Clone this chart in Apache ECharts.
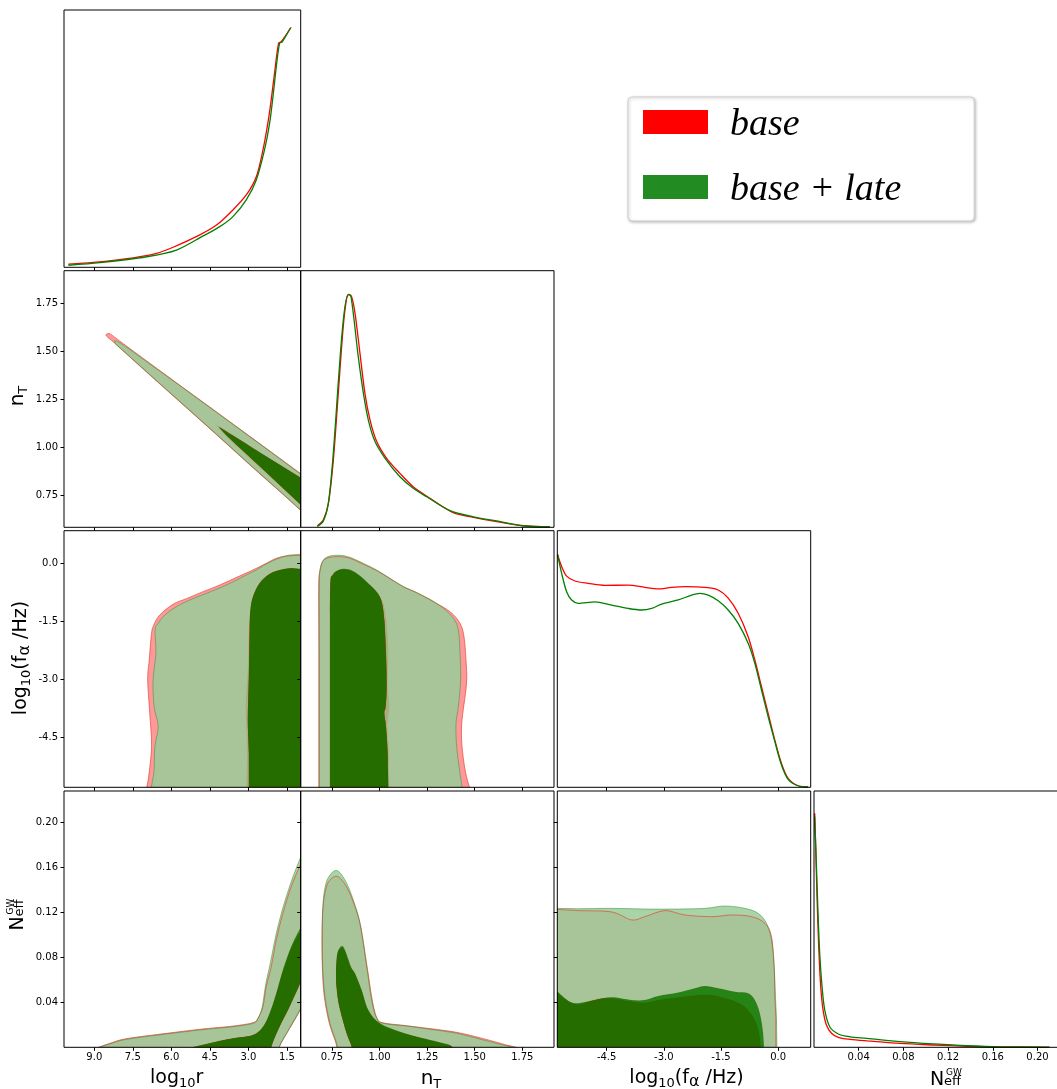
<!DOCTYPE html>
<html><head><meta charset="utf-8">
<script src="https://cdn.jsdelivr.net/npm/echarts@6/dist/echarts.min.js"></script>
<style>html,body{margin:0;padding:0;background:#fff;}#c{width:1057px;height:1089px;}</style>
</head><body><div id="c"></div>
<script>
// ---------- tick labels ----------
const ticksLogR = [9.0, 7.5, 6.0, 4.5, 3.0, 1.5];
const ticksNT = [0.75, 1.00, 1.25, 1.50, 1.75];
const ticksFa = [-4.5, -3.0, -1.5, 0.0];
const ticksNeff = [0.04, 0.08, 0.12, 0.16, 0.20];

// ---------- 1D marginals [value, normalised density] ----------
const logRBase = [[10.01,0.012],[9.04,0.019],[7.48,0.037],[6.58,0.054],[5.93,0.078],[4.89,0.126],[4.24,0.164],[3.60,0.223],[3.08,0.281],[2.69,0.352],[2.43,0.456],[2.24,0.560],[2.11,0.650],[1.98,0.754],[1.82,0.871],[1.72,0.877],[1.33,0.933]];
const logRLate = [[10.01,0.008],[8.78,0.018],[6.96,0.041],[5.80,0.067],[4.76,0.122],[4.11,0.158],[3.60,0.197],[3.08,0.262],[2.69,0.339],[2.37,0.456],[2.17,0.560],[2.04,0.663],[1.91,0.780],[1.78,0.871],[1.68,0.876],[1.37,0.929]];
const nTBase = [[0.673,0.006],[0.704,0.028],[0.731,0.093],[0.757,0.262],[0.783,0.522],[0.809,0.782],[0.827,0.892],[0.839,0.908],[0.853,0.899],[0.871,0.834],[0.897,0.678],[0.923,0.522],[0.950,0.418],[0.985,0.334],[1.037,0.269],[1.107,0.210],[1.177,0.158],[1.265,0.113],[1.387,0.057],[1.493,0.039],[1.615,0.022],[1.755,0.006],[1.895,0.002]];
const nTLate = [[0.673,0.003],[0.704,0.024],[0.730,0.090],[0.754,0.262],[0.806,0.782],[0.836,0.908],[0.850,0.899],[0.888,0.665],[0.915,0.522],[0.941,0.418],[0.976,0.334],[1.029,0.269],[1.107,0.197],[1.177,0.152],[1.248,0.119],[1.370,0.065],[1.493,0.041],[1.615,0.025],[1.755,0.006],[1.895,0.002]];
const faBase = [[-5.79,0.908],[-5.681,0.860],[-5.550,0.823],[-5.331,0.804],[-4.982,0.795],[-4.545,0.787],[-3.933,0.788],[-3.496,0.779],[-3.146,0.773],[-2.796,0.779],[-2.447,0.782],[-1.922,0.779],[-1.573,0.769],[-1.310,0.737],[-1.048,0.678],[-0.786,0.587],[-0.611,0.496],[-0.436,0.392],[-0.261,0.288],[-0.086,0.184],[0.088,0.093],[0.263,0.035],[0.525,0.006],[0.788,0.002]];
const faLate = [[-5.79,0.908],[-5.681,0.834],[-5.550,0.762],[-5.419,0.730],[-5.244,0.717],[-4.807,0.723],[-4.370,0.710],[-3.933,0.697],[-3.583,0.691],[-3.321,0.697],[-3.058,0.714],[-2.622,0.730],[-2.272,0.749],[-2.053,0.756],[-1.835,0.749],[-1.573,0.727],[-1.310,0.691],[-1.048,0.639],[-0.786,0.561],[-0.611,0.483],[-0.436,0.379],[-0.261,0.275],[-0.086,0.178],[0.088,0.087],[0.263,0.031],[0.525,0.006],[0.788,0.002]];
const neffBase = [[0.0006,0.913],[0.0015,0.783],[0.0027,0.588],[0.0042,0.393],[0.0060,0.237],[0.0081,0.146],[0.0111,0.087],[0.0157,0.055],[0.0217,0.039],[0.0322,0.031],[0.0472,0.025],[0.0772,0.015],[0.1072,0.009],[0.1373,0.004],[0.1673,0.001],[0.2108,0.000]];
const neffLate = [[0.0006,0.900],[0.0021,0.718],[0.0036,0.523],[0.0051,0.367],[0.0072,0.237],[0.0096,0.146],[0.0141,0.080],[0.0217,0.052],[0.0322,0.041],[0.0472,0.035],[0.0772,0.022],[0.1072,0.013],[0.1373,0.006],[0.1673,0.002],[0.2108,0.001]];

// ---------- 2D contours (outer = 95%, inner = 68%) ----------
// log10r vs nT
const rnBaseOut = [[8.545,1.584],[8.39,1.590],[8.00,1.552],[6.84,1.438],[5.54,1.311],[4.24,1.185],[2.95,1.059],[1.65,0.932],[0.88,0.856],[0.88,0.664],[1.65,0.757],[2.95,0.911],[4.24,1.067],[5.54,1.222],[6.84,1.377],[7.74,1.485],[8.20,1.542],[8.42,1.566]];
const rnLateOut = [[8.20,1.554],[7.87,1.532],[6.84,1.434],[5.54,1.309],[4.24,1.183],[2.95,1.057],[1.65,0.930],[0.88,0.854],[0.88,0.666],[1.65,0.759],[2.95,0.913],[4.24,1.069],[5.54,1.224],[6.84,1.379],[7.74,1.487],[8.13,1.532]];
const rnBaseIn = [[4.24,1.117],[3.60,1.067],[2.30,0.956],[0.88,0.840],[0.88,0.690],[2.30,0.866],[3.60,1.025],[4.11,1.095]];
const rnLateIn = [[4.09,1.103],[3.60,1.062],[2.30,0.953],[0.88,0.837],[0.88,0.693],[2.30,0.870],[3.60,1.031],[4.05,1.091]];
// log10r vs log10 f
const rfBaseOut = [[6.99,-5.906],[6.90,-5.604],[6.77,-4.740],[6.84,-3.876],[6.92,-3.013],[6.86,-2.495],[6.77,-1.804],[6.68,-1.588],[6.45,-1.329],[5.93,-1.05],[5.41,-0.906],[4.76,-0.725],[4.11,-0.552],[3.34,-0.319],[2.82,-0.163],[2.30,0.010],[1.91,0.139],[1.52,0.199],[0.81,0.225],[0.81,-5.906]];
const rfLateOut = [[6.81,-5.906],[6.68,-5.431],[6.64,-4.740],[6.51,-4.222],[6.67,-3.704],[6.71,-3.013],[6.60,-2.322],[6.63,-1.718],[6.51,-1.545],[6.25,-1.329],[5.80,-1.113],[5.28,-0.940],[4.63,-0.768],[3.85,-0.552],[3.21,-0.336],[2.69,-0.163],[2.30,-0.008],[1.91,0.113],[1.39,0.225],[0.81,0.251],[0.81,-5.906]];
const rfBaseIn = [[3.08,-5.906],[3.05,-4.913],[3.10,-3.704],[3.02,-2.75],[2.98,-1.718],[2.92,-1.190],[2.82,-0.836],[2.56,-0.49],[2.17,-0.25],[1.65,-0.137],[1.27,-0.112],[0.81,-0.137],[0.81,-5.906]];
const rfLateIn = [[2.98,-5.906],[2.98,-4.913],[3.02,-4.049],[2.98,-2.927],[2.95,-1.718],[2.92,-1.200],[2.82,-0.854],[2.56,-0.509],[2.17,-0.267],[1.65,-0.146],[1.27,-0.120],[0.81,-0.146],[0.81,-5.906]];
// nT vs log10 f
const nfBaseOut = [[0.6807,-5.906],[0.6807,-2.322],[0.680,-0.595],[0.687,-0.18],[0.7044,0.079],[0.7395,0.165],[0.792,0.182],[0.8446,0.139],[0.9147,-0.016],[0.9847,-0.18],[1.0548,-0.388],[1.1248,-0.595],[1.195,-0.750],[1.2825,-0.984],[1.37,-1.243],[1.4225,-1.545],[1.4437,-1.890],[1.454,-2.495],[1.458,-3.013],[1.447,-3.531],[1.433,-4.049],[1.431,-4.567],[1.4437,-5.172],[1.461,-5.604],[1.479,-5.906]];
const nfLateOut = [[0.6834,-5.906],[0.6834,-2.322],[0.6834,-0.595],[0.687,-0.163],[0.7044,0.096],[0.7395,0.199],[0.792,0.217],[0.8446,0.165],[0.9147,0.010],[0.9847,-0.163],[1.0548,-0.379],[1.1248,-0.595],[1.195,-0.750],[1.265,-0.923],[1.335,-1.156],[1.3876,-1.415],[1.4139,-1.718],[1.4225,-2.322],[1.426,-3.013],[1.4139,-3.704],[1.4016,-4.136],[1.405,-4.740],[1.4225,-5.431],[1.4367,-5.906]];
const nfBaseIn = [[0.736,-5.906],[0.736,-2.322],[0.7395,-0.595],[0.7535,-0.267],[0.792,-0.163],[0.8358,-0.163],[0.8796,-0.267],[0.9357,-0.492],[0.988,-0.750],[1.0198,-1.027],[1.0373,-1.545],[1.046,-2.322],[1.0425,-3.186],[1.051,-3.704],[1.0408,-4.222],[1.0483,-4.913],[1.051,-5.906]];
const nfLateIn = [[0.7395,-5.906],[0.7395,-2.322],[0.741,-0.595],[0.7535,-0.293],[0.792,-0.146],[0.8358,-0.146],[0.8796,-0.249],[0.9322,-0.466],[0.9847,-0.725],[1.011,-0.984],[1.025,-1.459],[1.0338,-2.322],[1.0373,-3.186],[1.032,-3.704],[1.025,-3.877],[1.0338,-4.222],[1.0425,-4.913],[1.046,-5.906]];
// log10r vs Neff
const rNBaseOut = [[9.10,-0.002],[8.13,0.0056],[7.48,0.0086],[6.19,0.0124],[4.89,0.016],[3.597,0.0189],[2.82,0.0219],[2.626,0.0258],[2.431,0.0361],[2.302,0.0539],[2.107,0.0717],[1.913,0.0954],[1.654,0.1191],[1.33,0.1428],[0.98,0.162],[0.812,0.171],[0.812,0.045],[0.98,0.0338],[1.395,0.0169],[1.784,0.0006],[1.848,-0.01]];
const rNLateOut = [[9.07,-0.002],[8.13,0.005],[7.48,0.008],[6.19,0.0118],[4.89,0.0154],[3.597,0.0183],[2.82,0.0213],[2.626,0.0255],[2.457,0.0361],[2.328,0.0554],[2.146,0.0746],[1.939,0.0983],[1.68,0.122],[1.33,0.1472],[0.98,0.168],[0.812,0.1769],[0.812,0.045],[0.98,0.0332],[1.395,0.0166],[1.81,0.0],[1.835,-0.01]];
const rNBaseIn = [[5.5,-0.002],[4.245,0.0053],[3.597,0.0083],[2.82,0.0112],[2.431,0.018],[2.172,0.0295],[1.913,0.047],[1.654,0.0675],[1.33,0.088],[0.98,0.1028],[0.812,0.109],[0.812,0.064],[0.98,0.0555],[1.395,0.035],[1.784,0.0175],[2.09,0.0],[2.10,-0.01]];
const rNLateIn = [[5.6,-0.002],[4.245,0.005],[3.597,0.008],[2.82,0.0109],[2.431,0.0183],[2.172,0.0302],[1.913,0.048],[1.654,0.0687],[1.33,0.0895],[0.98,0.1058],[0.812,0.1117],[0.812,0.0658],[0.98,0.0569],[1.395,0.0361],[1.784,0.0183],[2.107,0.0],[2.12,-0.01]];
// nT vs Neff
const nNBaseOut = [[0.7885,-0.01],[0.771,0.0035],[0.736,0.0213],[0.7097,0.045],[0.6992,0.0717],[0.6975,0.1043],[0.7044,0.128],[0.722,0.1434],[0.743,0.1493],[0.7693,0.152],[0.7955,0.1499],[0.8306,0.1413],[0.8656,0.1274],[0.9007,0.1072],[0.9357,0.0702],[0.962,0.0414],[0.988,0.0255],[1.0233,0.0216],[1.1424,0.0192],[1.265,0.0166],[1.405,0.0133],[1.545,0.0077],[1.668,0.002],[1.727,-0.0003],[1.734,-0.01]];
const nNLateOut = [[0.792,-0.01],[0.7745,0.0035],[0.7395,0.0213],[0.7132,0.045],[0.701,0.0717],[0.6992,0.1043],[0.7044,0.1309],[0.7185,0.1458],[0.7395,0.1532],[0.7658,0.157],[0.792,0.1552],[0.827,0.1458],[0.8621,0.1309],[0.8971,0.1102],[0.9322,0.0717],[0.9585,0.042],[0.9847,0.0258],[1.0198,0.0213],[1.1424,0.0189],[1.265,0.016],[1.405,0.0124],[1.545,0.0065],[1.65,0.002],[1.712,-0.0003],[1.72,-0.01]];
const nNBaseIn = [[0.858,-0.01],[0.851,0.0003],[0.825,0.0122],[0.7875,0.0355],[0.7735,0.052],[0.7705,0.0655],[0.778,0.0825],[0.8008,0.0885],[0.8183,0.085],[0.850,0.0705],[0.871,0.065],[0.906,0.050],[0.941,0.0325],[1.002,0.0208],[1.107,0.0135],[1.230,0.0077],[1.37,0.0018],[1.40,-0.002]];
const nNLateIn = [[0.8606,-0.01],[0.8535,0.0005],[0.827,0.0124],[0.7886,0.0361],[0.7745,0.052],[0.771,0.0658],[0.778,0.0835],[0.8008,0.09],[0.8183,0.0865],[0.850,0.0717],[0.871,0.0658],[0.906,0.0509],[0.941,0.0332],[1.002,0.0213],[1.107,0.0139],[1.230,0.008],[1.37,0.002],[1.40,-0.002]];
// log10 f vs Neff
const fNBaseOut = [[-5.84,-0.01],[-5.84,0.1226],[-5.244,0.1215],[-4.370,0.1203],[-3.845,0.1132],[-3.496,0.1161],[-2.971,0.1215],[-2.447,0.1176],[-1.747,0.1161],[-1.223,0.1176],[-0.698,0.1161],[-0.349,0.1102],[-0.174,0.0983],[-0.104,0.0717],[-0.086,0.045],[-0.060,0.0243],[-0.060,-0.01]];
const fNLateOut = [[-5.84,-0.01],[-5.84,0.1235],[-5.244,0.1232],[-4.370,0.1235],[-3.496,0.1229],[-2.622,0.1229],[-1.922,0.1235],[-1.398,0.1256],[-0.873,0.1235],[-0.524,0.1191],[-0.305,0.1102],[-0.174,0.0954],[-0.104,0.0717],[-0.069,0.045],[-0.043,0.0243],[-0.025,-0.01]];
const fNBaseIn = [[-5.84,-0.01],[-5.84,0.0515],[-5.681,0.045],[-5.419,0.0397],[-5.156,0.0385],[-4.719,0.0435],[-4.282,0.0432],[-3.845,0.0406],[-3.496,0.0397],[-3.146,0.042],[-2.622,0.0444],[-2.097,0.0465],[-1.747,0.0465],[-1.529,0.045],[-1.223,0.042],[-0.873,0.0361],[-0.611,0.0243],[-0.480,0.0095],[-0.436,-0.01]];
const fNLateIn = [[-5.84,-0.01],[-5.84,0.0509],[-5.594,0.0435],[-5.331,0.0391],[-4.807,0.042],[-4.370,0.0444],[-3.845,0.042],[-3.496,0.042],[-3.146,0.0456],[-2.622,0.0486],[-2.184,0.0524],[-1.922,0.0545],[-1.573,0.0524],[-1.135,0.0494],[-0.786,0.048],[-0.611,0.042],[-0.480,0.0302],[-0.393,0.0124],[-0.349,-0.01]];

// ---------- axes / layout ----------
const AX = {
  logr: {min:0.96, max:10.18, inverse:true, ticks:ticksLogR, dec:1},
  nt:   {min:0.5855, max:1.9166, ticks:ticksNT, dec:2},
  ntY:  {min:0.586, max:1.918, ticks:ticksNT, dec:2},
  fa:   {min:-5.795, max:0.855, ticks:ticksFa, dec:1},
  neffX:{min:0, max:0.2267, ticks:ticksNeff, dec:2},
  neffY:{min:0, max:0.2278, ticks:ticksNeff, dec:2},
  diag: {min:0, max:1, ticks:null}
};
const C = [{l:64,w:236.7},{l:300.7,w:253.3},{l:557.3,w:253.4},{l:814,w:253.3}];
const R = [{t:10,h:257.3},{t:270.7,h:256.6},{t:530.7,h:256.6},{t:791,h:256.3}];
// [row, col, xKey, yKey]
const PANELS = [
  [0,0,'logr','diag'],
  [1,0,'logr','ntY'],[1,1,'nt','diag'],
  [2,0,'logr','fa'],[2,1,'nt','fa'],[2,2,'fa','diag'],
  [3,0,'logr','neffY'],[3,1,'nt','neffY'],[3,2,'fa','neffY'],[3,3,'neffX','diag']
];

const grids=[], xAxes=[], yAxes=[];
PANELS.forEach((p,i)=>{
  const [r,c,xk,yk]=p;
  grids.push({left:C[c].l, top:R[r].t, width:C[c].w, height:R[r].h, show:true, borderColor:'#000', borderWidth:1,
    backgroundColor:'transparent', containLabel:false, outerBoundsMode:'none', z:10});
  xAxes.push(mkAxis(xk, i, r===3, true, true));
  yAxes.push(mkAxis(yk, i, c===0, yk!=='diag', false));
});
function mkAxis(key, gi, showLabel, showTick, isX){
  const a = AX[key];
  const o = {type:'value', gridIndex:gi, min:a.min, max:a.max, inverse:!!a.inverse, z:10,
    position: isX ? 'bottom' : 'left',
    splitLine:{show:false}, axisLine:{show:false, onZero:false},
    axisTick:{show:showTick, inside:false, length:3.5, lineStyle:{color:'#000', width:1}},
    axisLabel:{show:showLabel, margin:isX?5:6, fontSize:10, fontFamily:'DejaVu Sans', color:'#000',
      formatter:v=>Number(v).toFixed(a.dec)}};
  if (a.ticks){ o.axisTick.customValues=a.ticks; o.axisLabel.customValues=a.ticks; }
  else { o.show=false; }
  return o;
}

// ---------- smooth closed path helpers ----------
function fm(p){return p[0].toFixed(2)+' '+p[1].toFixed(2);}
function smoothClosed(A){
  const n=A.length, P=A.map(a=>a.pt);
  let d='M'+fm(P[0]);
  for(let i=0;i<n;i++){
    const j=(i+1)%n;
    if(A[i].out||A[j].out){ d+=' L'+fm(P[j]); }
    else{
      const p0=P[(i-1+n)%n], p1=P[i], p2=P[j], p3=P[(j+1)%n];
      const c1=[p1[0]+(p2[0]-p0[0])/6, p1[1]+(p2[1]-p0[1])/6];
      const c2=[p2[0]-(p3[0]-p1[0])/6, p2[1]-(p3[1]-p1[1])/6];
      d+=' C'+fm(c1)+' '+fm(c2)+' '+fm(p2);
    }
  }
  return d+' Z';
}
function area(A){let s=0;for(let i=0;i<A.length;i++){const a=A[i].pt,b=A[(i+1)%A.length].pt;s+=a[0]*b[1]-b[0]*a[1];}return s;}
function polySeries(gi, outline, hole, fill, stroke, lw){
  const ax=AX[PANELS[gi][2]], ay=AX[PANELS[gi][3]];
  const isOut=p=>p[0]<ax.min||p[0]>ax.max||p[1]<ay.min||p[1]>ay.max;
  return {type:'custom', coordinateSystem:'cartesian2d', xAxisIndex:gi, yAxisIndex:gi, clip:true, silent:true,
    animation:false, z:2, data:[outline[0].slice(0,2)],
    renderItem:function(params, api){
      const A=outline.map(p=>({pt:api.coord(p), out:isOut(p)}));
      let d=smoothClosed(A);
      if(hole){
        let H=hole.map(p=>({pt:api.coord(p), out:isOut(p)}));
        if(Math.sign(area(A))===Math.sign(area(H))) H=H.reverse();
        d+=' '+smoothClosed(H);
      }
      return {type:'path', shape:{pathData:d}, style:{fill:fill||'none', stroke:stroke||'none', lineWidth:lw||0}};
    }};
}

const RED_OUT='#ff9999', RED_IN='#ff0000', GRN_OUT='rgba(153,204,153,0.85)', GRN_IN='rgba(0,128,0,0.85)';
const RED_LINE='rgba(225,70,50,0.85)', GRN_LINE='rgba(50,140,50,0.7)';
const series=[];
const twoD = [
  [1, rnBaseOut, rnBaseIn, rnLateOut, rnLateIn],
  [3, rfBaseOut, rfBaseIn, rfLateOut, rfLateIn],
  [4, nfBaseOut, nfBaseIn, nfLateOut, nfLateIn],
  [6, rNBaseOut, rNBaseIn, rNLateOut, rNLateIn],
  [7, nNBaseOut, nNBaseIn, nNLateOut, nNLateIn],
  [8, fNBaseOut, fNBaseIn, fNLateOut, fNLateIn]
];
twoD.forEach(([gi,bo,bi,lo,li])=>{
  series.push(polySeries(gi, bo, null, RED_OUT));
  series.push(polySeries(gi, bi, null, RED_IN));
  series.push(polySeries(gi, lo, li, GRN_OUT));
  series.push(polySeries(gi, li, null, GRN_IN));
  series.push(polySeries(gi, bo, null, null, RED_LINE, 0.8));
  series.push(polySeries(gi, lo, null, null, GRN_LINE, 0.7));
});
function lineS(name, gi, data, color){
  return {type:'line', name, xAxisIndex:gi, yAxisIndex:gi, data, smooth:0.3, symbol:'none', silent:true,
    animation:false, z:3, lineStyle:{color, width:1.3}, itemStyle:{color}};
}
[[0,logRBase,logRLate],[2,nTBase,nTLate],[5,faBase,faLate],[9,neffBase,neffLate]].forEach(([gi,b,l])=>{
  series.push(lineS('base', gi, b, '#ff0000'));
  series.push(lineS('base + late', gi, l, '#008000'));
});

// ---------- axis names ----------
const RICH = {
  m:{fontSize:19, fontFamily:'DejaVu Sans', fill:'#000', lineHeight:24},
  n:{fontSize:20, fontFamily:'DejaVu Sans', fill:'#000', lineHeight:24},
  s:{fontSize:13, fontFamily:'DejaVu Sans', fill:'#000', lineHeight:13, verticalAlign:'bottom'},
  a:{fontSize:16, fontFamily:'DejaVu Sans', fill:'#000', lineHeight:16, verticalAlign:'bottom'}
};
const NAME_LOGR='{m|log}{s|10}{m|r}', NAME_NT='{n|n}{s|T}', NAME_FA='{m|log}{s|10}{m|(f}{a|α}{m| /Hz)}';
function txt(text,x,y,rot){return {type:'text', x, y, rotation:rot||0, z:100, silent:true,
  style:{text, rich:RICH, align:'center', verticalAlign:'middle', fill:'#000'}};}
function neffGroup(x,y,rot){
  return {type:'group', x, y, rotation:rot||0, z:100, silent:true, children:[
    {type:'text', x:0, y:0, style:{text:'N', fontSize:19, fontFamily:'DejaVu Sans', fill:'#000', align:'left', verticalAlign:'middle'}},
    {type:'text', x:14, y:1.8, style:{text:'eff', fontSize:13, fontFamily:'DejaVu Sans', fill:'#000', align:'left', verticalAlign:'middle'}},
    {type:'text', x:16, y:-8, style:{text:'GW', fontSize:9, fontFamily:'DejaVu Sans', fill:'#000', align:'left', verticalAlign:'middle'}}
  ]};
}
const graphic=[
  txt(NAME_LOGR,176.7,1078), txt(NAME_NT,431,1079), txt(NAME_FA,686.5,1078), neffGroup(930,1080.3),
  txt(NAME_NT,18,396,Math.PI/2), txt(NAME_FA,21,658,Math.PI/2), neffGroup(18.3,930.5,Math.PI/2)
];

const chart=echarts.init(document.getElementById('c'),null,{renderer:'canvas'});
chart.setOption({
  animation:false, backgroundColor:'#fff',
  textStyle:{fontFamily:'DejaVu Sans'},
  grid:grids, xAxis:xAxes, yAxis:yAxes, series, graphic,
  legend:{left:628, top:97, orient:'vertical', icon:'rect', itemWidth:65, itemHeight:24, itemGap:21,
    padding:[3,73,12,15], backgroundColor:'#fff', borderColor:'#cfcfcf', borderWidth:1, borderRadius:4,
    shadowBlur:3, shadowColor:'rgba(0,0,0,0.25)', shadowOffsetX:1, shadowOffsetY:1, selectedMode:false,
    formatter:'{t|{name}}',
    textStyle:{fontFamily:'Liberation Serif', fontStyle:'italic', fontSize:38, color:'#000',
      rich:{t:{fontFamily:'Liberation Serif', fontStyle:'italic', fontSize:38, color:'#000', lineHeight:38, padding:[6,0,0,17]}}},
    data:[{name:'base', itemStyle:{color:'#ff0000'}},{name:'base + late', itemStyle:{color:'#228b22'}}]}
});
</script></body></html>
